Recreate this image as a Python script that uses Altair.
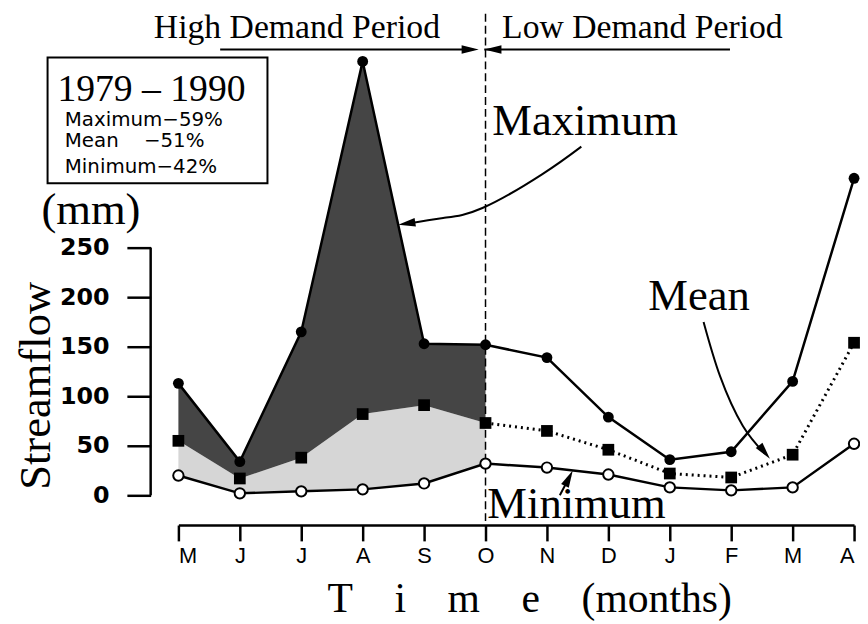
import altair as alt
import pandas as pd

# ---- data ----
months = ["M", "J", "J", "A", "S", "O", "N", "D", "J", "F", "M", "A"]
maximum = [113, 34, 165, 438, 153, 152, 139, 79, 36, 44, 115, 320]
mean = [55, 17, 38, 82, 91, 73, 65, 46, 22, 18, 41, 154]
minimum = [20, 2, 4, 6, 12, 32, 28, 21, 8, 5, 8, 52]
y_ticks = [0, 50, 100, 150, 200, 250]

idx = list(range(len(months)))
split = 5  # October: boundary between high and low demand periods

SERIF = "Liberation Serif"

X = alt.Scale(domain=[0, 11], nice=False, zero=False)
Y = alt.Scale(domain=[0, 489], nice=False, zero=False)

label_expr = "[" + ",".join("'%s'" % m for m in months) + "][datum.value]"
gap = "\u00a0" * 4

xaxis = alt.Axis(
    values=idx, labelExpr=label_expr, offset=30, grid=False,
    domainColor="black", domainWidth=2.5, tickColor="black", tickWidth=2.5,
    tickSize=16, labelFont="Liberation Sans", labelFontSize=22, labelColor="black",
    labelPadding=5, labelAngle=0,
    title="T" + gap + "i" + gap + "m" + gap + "e" + gap + "(months)",
    titleFont=SERIF, titleFontSize=42, titleFontWeight="normal", titleColor="black",
    titleX=354, titleY=87, titleAlign="center", titleBaseline="alphabetic",
)
yaxis = alt.Axis(
    values=y_ticks, offset=28, grid=False, domain=False,
    tickColor="black", tickWidth=2.5, tickSize=24,
    labelFont="DejaVu Sans", labelFontWeight="bold", labelFontSize=24,
    labelColor="black", labelPadding=18,
    title="Streamflow", titleFont=SERIF, titleFontSize=45, titleFontWeight="normal",
    titleColor="black", titleAngle=270, titleX=-102, titleY=378,
    titleAlign="center", titleBaseline="alphabetic",
)

xe = alt.X("i:Q", scale=X, axis=xaxis)
ye = alt.Y("v:Q", scale=Y, axis=yaxis)

max_df = pd.DataFrame({"i": idx, "v": maximum})
mean_df = pd.DataFrame({"i": idx, "v": mean})
min_df = pd.DataFrame({"i": idx, "v": minimum})
mean_low = mean_df[mean_df.i >= split]

dark_df = pd.DataFrame({"i": idx[:split + 1], "v": maximum[:split + 1], "v2": mean[:split + 1]})
light_df = pd.DataFrame({"i": idx[:split + 1], "v": mean[:split + 1], "v2": minimum[:split + 1]})

dark = alt.Chart(dark_df).mark_area(color="#454545", opacity=1).encode(x=xe, y=ye, y2="v2:Q")
light = alt.Chart(light_df).mark_area(color="#d6d6d6", opacity=1).encode(x=xe, y=ye, y2="v2:Q")

# y axis line (0 to 250 only)
yline_df = pd.DataFrame({"v": [y_ticks[0]], "v2": [y_ticks[-1]]})
yline = alt.Chart(yline_df).mark_rule(color="black", strokeWidth=2.5).encode(
    x=alt.value(-28), y=ye, y2="v2:Q")

# dashed divider at October
div_df = pd.DataFrame({"i": [split], "v": [-26], "v2": [489]})
divider = alt.Chart(div_df).mark_rule(color="black", strokeWidth=1.5, strokeDash=[8, 4]).encode(
    x=xe, y=ye, y2="v2:Q")

max_line = alt.Chart(max_df).mark_line(color="black", strokeWidth=2.5).encode(x=xe, y=ye)
mean_line = alt.Chart(mean_low).mark_line(color="black", strokeWidth=3, strokeDash=[2, 4]).encode(x=xe, y=ye)
min_line = alt.Chart(min_df).mark_line(color="black", strokeWidth=2.5).encode(x=xe, y=ye)

max_pts = alt.Chart(max_df).mark_point(shape="circle", filled=True, color="black", size=120, opacity=1).encode(x=xe, y=ye)
mean_pts = alt.Chart(mean_df).mark_point(shape="square", filled=True, color="black", size=140, opacity=1).encode(x=xe, y=ye)
min_pts = alt.Chart(min_df).mark_point(shape="circle", filled=True, fill="white", stroke="black",
                                       strokeWidth=2, size=110, opacity=1).encode(x=xe, y=ye)

# ---- annotations ----
serif_texts = pd.DataFrame({
    "t": ["High Demand Period", "Low Demand Period"],
    "i": [-0.40, 5.27], "v": [462, 462]})
big_texts = pd.DataFrame({
    "t": ["Maximum", "Mean", "Minimum", "(mm)"],
    "i": [5.11, 7.65, 5.03, -2.23], "v": [364, 187, -23, 274]})
year_text = pd.DataFrame({"t": ["1979 \u2013 1990"], "i": [-1.97], "v": [398]})
box_lines = pd.DataFrame({
    "t": ["Maximum\u221259%", "Mean\u00a0\u00a0\u00a0\u00a0\u221251%", "Minimum\u221242%"],
    "i": [-1.85, -1.85, -1.85], "v": [373, 352, 325]})

t1 = alt.Chart(serif_texts).mark_text(font=SERIF, fontSize=34, align="left", baseline="alphabetic",
                                      color="black").encode(x=xe, y=ye, text="t:N")
t2 = alt.Chart(big_texts).mark_text(font=SERIF, fontSize=45, align="left", baseline="alphabetic",
                                    color="black").encode(x=xe, y=ye, text="t:N")
t3 = alt.Chart(year_text).mark_text(font=SERIF, fontSize=38, align="left", baseline="alphabetic",
                                    color="black").encode(x=xe, y=ye, text="t:N")
t4 = alt.Chart(box_lines).mark_text(font="DejaVu Sans", fontSize=20, align="left", baseline="alphabetic",
                                    color="black").encode(x=xe, y=ye, text="t:N")

box_df = pd.DataFrame({"i": [-2.13], "i2": [1.45], "v": [315], "v2": [442]})
box = alt.Chart(box_df).mark_rect(fill="white", stroke="black", strokeWidth=2).encode(
    x=xe, x2="i2:Q", y=ye, y2="v2:Q")

period_df = pd.DataFrame({"i": [0.68, 4.98], "i2": [4.80, 8.98], "v": [450, 450]})
period_arrows = alt.Chart(period_df).mark_rule(color="black", strokeWidth=1.8).encode(
    x=xe, x2="i2:Q", y=ye)

curves_df = pd.DataFrame({
    "g": ["max"] * 5 + ["mean"] * 4 + ["min"] * 2,
    "k": [0, 1, 2, 3, 4, 0, 1, 2, 3, 0, 1],
    "i": [6.56, 5.92, 4.95, 4.31, 3.70, 8.55, 8.82, 9.19, 9.55, 6.21, 6.38],
    "v": [352, 324, 290, 280, 274, 175, 120, 70, 42, 0, 20]})
curves = alt.Chart(curves_df).mark_line(color="black", strokeWidth=2, interpolate="natural").encode(
    x=xe, y=ye, detail="g:N", order="k:Q")

heads_df = pd.DataFrame({
    "i": [4.89, 4.98, 3.58, 9.63, 6.42],
    "v": [450, 450, 273, 37, 25],
    "a": [0, 180, 171, 51, 297]})
heads = alt.Chart(heads_df).mark_point(shape="M0,0L-2,-0.5L-2,0.5Z", filled=True, color="black",
                                       size=300, opacity=1).encode(
    x=xe, y=ye, angle=alt.Angle("a:Q", scale=None))

chart = alt.layer(
    light, dark, yline, max_line, mean_line, min_line, divider,
    max_pts, mean_pts, min_pts,
    box, t1, t2, t3, t4, period_arrows, curves, heads,
).properties(
    width=682, height=489,
    autosize=alt.AutoSizeParams(type="none"),
    padding={"left": 172, "top": 0, "right": 6, "bottom": 127},
    background="white",
).configure_view(stroke=None)

chart.save("out.html", embed_options={"renderer": "svg", "actions": False})
